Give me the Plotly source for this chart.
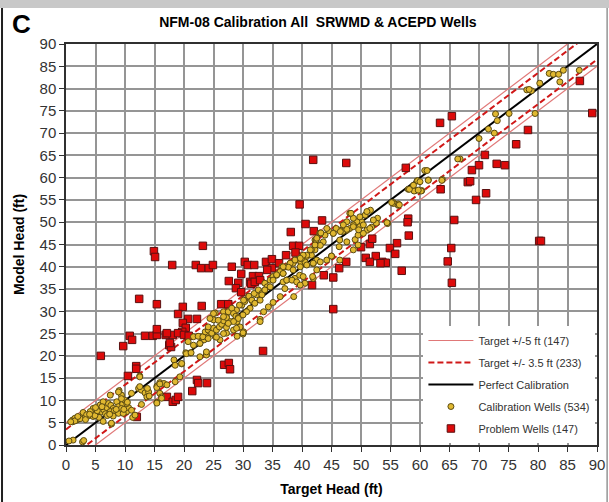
import plotly.graph_objects as go

# ---------------- data ----------------
calib_x = [1.1,1.5,2.1,2.7,3.2,3.8,4.4,4.6,5.2,5.5,5.8,6.0,6.4,6.9,7.2,7.6,8.0,8.3,8.6,8.9,9.0,9.4,9.6,9.3,9.9,11.1,11.3,7.7,2.8,1.2,
           12.3,12.8,12.5,13.4,13.7,14.0,12.8,15.4,15.9,16.6,15.9,16.2,15.4,18.3,19.6,20.3,21.1,23.8,22.8,23.8,6.3,4.6,4.1,2.9,7.5,8.0,8.9,10.3,9.7,10.6,5.6,
           1.1,1.8,7.7,7.5,8.9,9.4,12.5,12.5,13.8,14.1,15.4,15.9,16.2,15.4,18.5,19.6,20.4,21.2,23.8,30.0,28.4,27.2,25.0,25.3,26.7,27.2,27.8,28.9,29.8,30.3,30.9,31.5,32.3,
           23.8,25.3,26.1,22.7,23.4,21.6,19.3,18.5,17.1,6.3,9.4,10.3,11.1,11.7,
           20.7,21.6,22.4,23.2,23.6,24.1,24.7,25.0,25.5,26.0,26.4,26.7,27.2,27.5,28.1,28.4,28.8,29.2,29.0,29.5,28.9,30.1,29.4,30.1,31.0,31.5,31.9,32.6,33.2,33.7,34.1,34.6,35.1,35.7,36.3,36.8,36.6,37.3,37.9,38.5,39.1,39.8,40.2,40.8,41.6,42.2,42.9,43.6,42.2,43.0,
           37.4,38.8,39.6,40.5,41.9,38.6,32.9,29.0,27.2,26.7,25.5,24.1,22.7,23.8,22.7,33.5,34.3,35.1,36.3,30.0,
           60.8,59.5,58.0,59.2,60.3,61.4,63.8,55.5,56.3,54.5,52.8,51.6,50.7,49.8,50.1,49.3,48.7,48.1,48.1,47.6,46.9,46.4,45.8,45.3,44.5,43.9,43.1,42.4,43.1,41.6,40.8,40.5,39.9,41.9,42.5,41.8,42.5,45.0,46.3,47.6,49.0,49.5,51.0,51.8,52.6,50.4,49.5,48.7,46.4,47.6,48.7,49.8,47.0,
           81.9,82.6,83.5,84.3,83.7,87.0,80.3,78.1,78.9,78.5,79.5,75.1,73.1,72.8,72.6,71.6,70.0,66.8,66.4,61.2,61.4,59.6,60.2,59.0,58.2,63.7,55.5,56.3,54.5,
           48.3,49.8,51.0,52.1,54.4,55.2,56.5,58.9,59.7,60.0,43.2,44.2,45.3,46.5,47.6,48.7,49.6,50.4,51.5,42.5,42.2,41.4,40.2,39.7,38.8,38.0,37.7,36.8,36.3,35.7,38.5,39.7,40.8,41.9,43.1,44.2,45.0,46.4,
           35.1,34.6,33.7,33.2,32.9,32.0,31.2,30.6,30.0,29.2,28.4,27.5,26.7,25.8,25.0,24.4,24.1,32.9,36.8,37.4,38.3,39.1,39.7,37.1,40.2,36.8,
           0.5,3.0,1.5,2.4,3.5,4.9,5.3,6.7,7.0,8.2,3.3,4.0,5.0,6.1,7.4,8.5,9.8,10.4,2.0,0.8]
calib_y = [5.6,6.0,5.8,6.2,6.2,6.5,7.1,6.4,7.1,8.0,9.0,7.5,7.9,8.4,9.3,8.9,8.2,7.5,9.7,8.6,12.2,11.2,9.2,7.9,10.1,11.6,6.2,4.7,0.7,1.1,
           12.7,12.3,15.5,11.7,10.8,11.9,9.1,13.2,14.0,13.8,11.6,10.8,9.6,19.1,18.2,20.7,20.7,20.4,24.3,24.7,9.7,8.2,7.5,7.3,7.5,6.5,7.1,7.5,7.1,8.4,6.2,
           5.2,5.6,4.9,11.2,11.9,10.4,15.3,13.1,12.7,11.0,12.9,13.7,10.5,9.4,17.9,18.3,20.5,20.7,20.2,24.9,25.8,25.1,28.1,29.6,29.9,28.8,27.7,30.3,31.4,32.2,33.3,32.4,33.7,
           25.1,24.3,23.6,22.8,23.6,22.4,15.3,14.2,13.5,5.3,8.2,9.3,7.8,6.7,
           23.2,24.3,24.4,24.3,25.4,25.8,25.1,26.2,25.8,26.5,27.1,27.9,28.6,29.9,30.7,29.5,28.9,28.6,27.7,26.5,26.2,25.4,31.4,32.5,33.4,32.5,34.0,34.8,34.0,36.3,35.5,37.0,37.8,38.1,38.9,38.5,40.0,40.0,40.6,40.8,41.5,41.1,41.9,42.3,42.6,43.8,44.9,45.6,46.0,47.5,
           37.0,37.4,38.1,36.3,37.4,33.3,28.2,24.4,26.4,25.0,24.2,23.9,22.8,20.9,19.8,29.9,31.0,32.0,33.3,25.2,
           61.6,59.3,57.4,57.1,57.1,59.5,59.6,54.4,54.1,49.8,50.9,52.7,51.6,50.9,50.1,50.1,49.4,52.0,48.6,48.2,47.9,48.2,48.6,47.5,48.1,47.1,47.6,46.0,44.8,43.8,42.6,41.1,41.8,40.7,41.5,37.8,39.3,42.4,44.5,45.6,46.1,47.1,48.2,48.9,49.8,47.5,44.9,43.8,46.0,50.1,50.9,49.0,49.4,
           83.4,83.2,83.2,84.1,81.5,84.1,81.2,79.7,79.5,79.8,74.4,74.4,72.8,74.3,70.0,70.9,68.8,64.2,64.2,61.6,59.4,59.3,57.0,57.0,57.4,59.4,54.2,53.8,49.7,
           52.0,51.2,52.4,50.5,49.9,54.4,53.9,58.3,57.2,59.1,47.6,48.6,47.5,47.9,48.4,49.0,48.3,49.4,48.6,46.4,44.9,43.8,42.6,41.9,41.5,40.8,39.9,40.0,38.9,38.2,39.3,40.0,40.4,40.8,41.1,41.5,42.4,41.5,
           37.0,35.5,34.8,33.7,32.5,31.8,30.7,29.9,29.2,28.4,27.7,27.3,28.8,28.0,29.5,28.4,26.5,27.7,36.6,37.0,37.0,36.6,35.9,35.1,37.8,38.5,
           0.9,1.0,5.4,5.9,6.8,6.6,7.7,7.0,6.6,7.8,5.7,6.9,8.4,8.6,6.9,8.0,8.0,9.6,6.4,5.2]

prob_x = [41.9,47.5,57.6,65.4,63.4,87.1,89.2,78.3,76.3,71.0,70.0,68.8,73.0,74.4,68.1,68.5,63.5,71.2,69.5,58.0,57.9,58.1,65.8,56.1,54.9,55.8,53.6,54.2,56.9,65.3,64.7,65.4,80.2,80.5,
          39.6,40.6,43.4,38.1,42.0,38.5,39.5,38.9,37.3,50.0,51.5,51.9,50.8,52.5,51.5,53.3,47.5,46.3,43.7,45.3,41.7,45.3,33.4,
          23.2,22.0,22.9,24.2,24.9,28.1,30.3,30.8,31.9,33.9,34.9,36.1,34.9,34.1,29.7,27.6,31.7,32.7,31.2,31.4,32.0,32.9,29.2,28.8,29.7,26.3,27.5,23.0,19.8,20.7,22.2,19.8,20.3,19.7,14.9,15.1,18.0,12.4,15.4,19.0,
          10.8,11.2,9.7,13.4,14.7,15.4,16.9,18.1,19.0,20.0,20.8,17.5,17.8,5.9,11.9,11.9,10.5,22.2,22.4,23.9,21.4,17.1,18.1,18.6,19.0,12.0,26.8,27.6,27.8,15.4,17.1,17.6]
prob_y = [64.0,63.3,62.2,73.8,72.3,81.7,74.5,70.7,67.5,65.1,62.8,61.7,63.1,62.8,59.0,59.2,57.4,56.5,55.0,50.8,50.0,47.0,50.5,45.3,44.2,42.9,41.1,40.9,39.1,44.2,41.2,36.4,45.8,45.8,
          54.0,49.6,50.4,47.8,48.0,44.7,44.7,43.2,42.6,44.4,45.1,46.3,42.0,42.4,41.1,40.8,41.1,39.7,38.1,37.6,35.9,30.5,21.1,
          44.7,40.4,39.7,39.7,40.4,40.0,41.1,40.4,40.4,41.1,41.7,40.8,39.7,39.3,38.4,36.8,37.9,37.9,36.6,36.2,36.6,37.0,36.4,35.2,34.3,31.6,31.6,31.2,31.0,28.3,28.3,27.4,26.3,25.4,43.5,42.2,40.4,32.8,31.6,29.4,
          24.5,23.6,22.2,24.5,24.5,24.7,24.7,24.7,25.1,24.7,24.5,22.4,22.0,20.0,17.7,17.1,15.5,14.6,13.9,13.9,12.1,10.8,9.7,10.1,10.8,6.3,18.0,18.4,17.0,26.0,25.1,22.9]

line_x = [0, 90]
x_ticks = list(range(0, 91, 5))
y_ticks = list(range(0, 91, 5))

FONT = "Liberation Sans, Arial, sans-serif"

fig = go.Figure()

fig.add_trace(go.Scatter(x=line_x, y=[v + 5 for v in line_x], mode="lines", legendgroup="g1", legendrank=1,
                         line=dict(color="#e07878", width=1.2), name="Target +/-5 ft (147)"))
fig.add_trace(go.Scatter(x=line_x, y=[v - 5 for v in line_x], mode="lines", legendgroup="g1", legendrank=1,
                         line=dict(color="#e07878", width=1.2), showlegend=False))
fig.add_trace(go.Scatter(x=line_x, y=[v + 3.5 for v in line_x], mode="lines", legendgroup="g2", legendrank=2,
                         line=dict(color="#d01818", width=2, dash="6px,3px"), name="Target +/- 3.5 ft (233)"))
fig.add_trace(go.Scatter(x=line_x, y=[v - 3.5 for v in line_x], mode="lines", legendgroup="g2", legendrank=2,
                         line=dict(color="#d01818", width=2, dash="6px,3px"), showlegend=False))
fig.add_trace(go.Scatter(x=line_x, y=line_x, mode="lines", legendgroup="g3", legendrank=3,
                         line=dict(color="black", width=2), name="Perfect Calibration"))
fig.add_trace(go.Scatter(x=prob_x, y=prob_y, mode="markers", name="Problem Wells (147)",
                         legendgroup="g5", legendrank=5,
                         marker=dict(symbol="square", size=7.5, color="#dd0a0a",
                                     line=dict(color="#5a1010", width=1))))
fig.add_trace(go.Scatter(x=calib_x, y=calib_y, mode="markers", name="Calibration Wells (534)",
                         legendgroup="g4", legendrank=4,
                         marker=dict(symbol="circle", size=6, color="#e0b830",
                                     line=dict(color="#5a4a10", width=1))))

axis_common = dict(range=[0, 90], showgrid=True, gridcolor="#959595", gridwidth=1.5,
                   zeroline=False, showline=True, linecolor="#303030", linewidth=1.5,
                   mirror=True, ticks="outside", ticklen=5, tickcolor="#303030",
                   automargin=False,
                   tickfont=dict(family=FONT, size=15, color="#333333"))

fig.update_xaxes(tickvals=x_ticks, ticktext=[str(v) for v in x_ticks],
                 title=dict(text="<b>Target Head (ft)</b>", font=dict(family=FONT, size=14, color="black"), standoff=12),
                 **axis_common)
fig.update_yaxes(tickvals=y_ticks, ticktext=[str(v) for v in y_ticks],
                 title=dict(text="<b>Model Head (ft)</b>", font=dict(family=FONT, size=14, color="black"), standoff=12),
                 **axis_common)

fig.update_layout(
    width=609, height=502,
    margin=dict(l=66, r=12, t=44, b=57, autoexpand=False),
    paper_bgcolor="white", plot_bgcolor="white",
    title=dict(text="<b>NFM-08 Calibration All  SRWMD & ACEPD Wells</b>",
               font=dict(family=FONT, size=14, color="black"),
               x=0.522, xanchor="center", y=0.956, yanchor="middle", automargin=False),
    showlegend=True,
    legend=dict(x=0.997, y=0.005, xanchor="right", yanchor="bottom",
                bgcolor="white", borderwidth=0, traceorder="grouped",
                font=dict(family=FONT, size=11, color="#333333"),
                itemwidth=45, tracegroupgap=3),
    annotations=[dict(text="<b>C</b>", xref="paper", yref="paper", x=-0.105, y=1.05,
                      xanchor="left", yanchor="middle", showarrow=False,
                      font=dict(family=FONT, size=26, color="black"))],
    shapes=[
        dict(type="rect", xref="paper", yref="paper", x0=-0.13, x1=1.03, y0=1.0898, y1=1.12,
             fillcolor="#c8c8c8", line=dict(width=0), layer="above"),
        dict(type="line", xref="paper", yref="paper", x0=-0.1205, x1=-0.1205, y0=-0.15, y1=1.0898,
             line=dict(color="#202020", width=2), layer="above"),
        dict(type="line", xref="paper", yref="paper", x0=1.019, x1=1.019, y0=-0.15, y1=1.0898,
             line=dict(color="#606060", width=1), layer="above"),
    ],
)

fig.write_html("out.html", config={"displayModeBar": False},
               post_script="document.body.style.margin='0px';document.body.style.padding='0px';")
